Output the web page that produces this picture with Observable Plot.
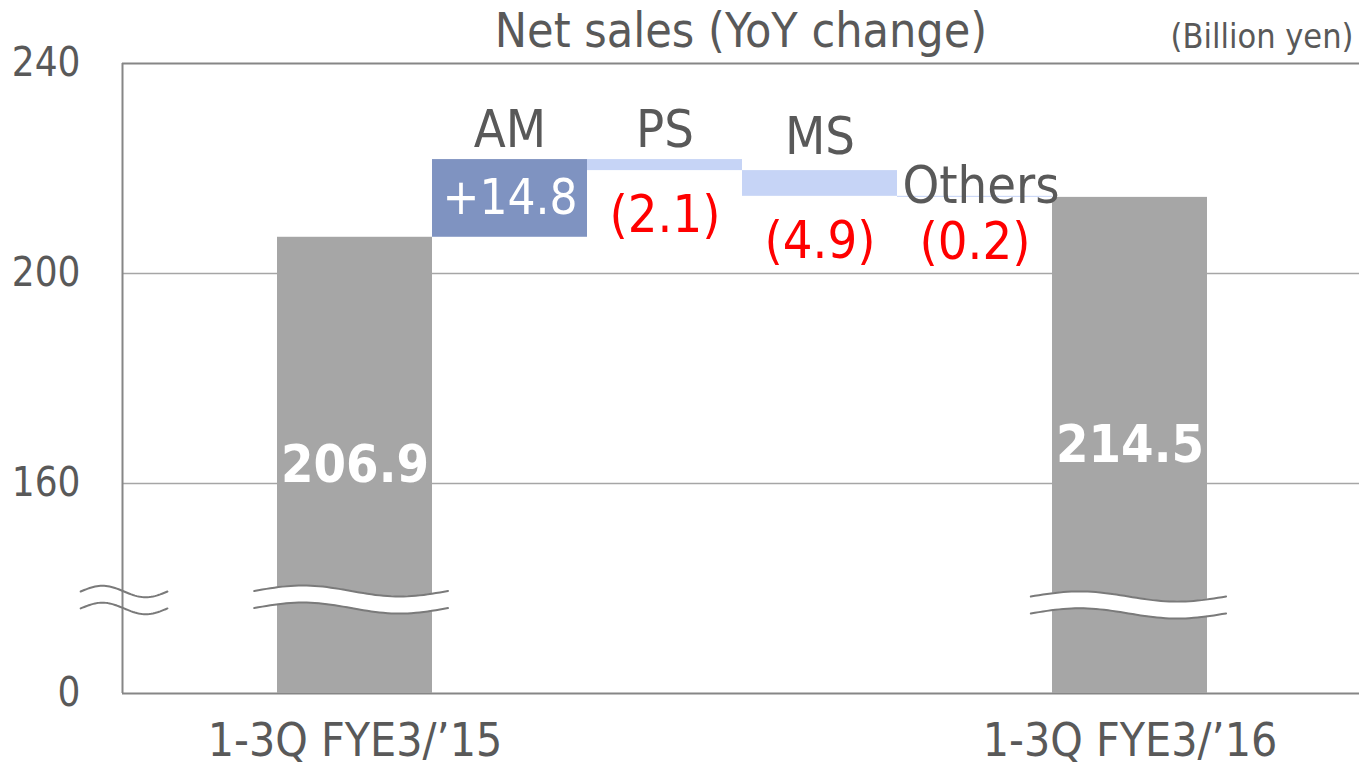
<!DOCTYPE html>
<html><head><meta charset="utf-8">
<script src="https://cdn.jsdelivr.net/npm/d3@7"></script>
<script src="https://cdn.jsdelivr.net/npm/@observablehq/plot@0.6"></script>
<style>
html,body{margin:0;padding:0;background:#fff;}
svg{display:block;}
</style>
</head><body>
<div id="chart"></div>
<script>
// ---- data ----
const categories = ["1-3Q FYE3/\u201915", "AM", "PS", "MS", "Others", "1-3Q FYE3/\u201916"];
const kinds = ["total", "delta", "delta", "delta", "delta", "total"];
const values = [206.9, 14.8, -2.1, -4.9, -0.2, 214.5];
const valueLabels = ["206.9", "+14.8", "(2.1)", "(4.9)", "(0.2)", "214.5"];
const yTickValues = [0, 160, 200, 240];
const titleText = "Net sales (YoY change)";
const unitText = "(Billion yen)";

// ---- layout helpers ----
const W = 1359, H = 767;
const FONT = "'DejaVu Sans Condensed', 'DejaVu Sans', sans-serif";
const TXT = "#595959";
const yDomain = [0, 160, 240];
const yRange = [693, 483, 63];
const yS = d3.scaleLinear().domain(yDomain).range(yRange);

// build waterfall rows
let run = 0;
const rows = categories.map((c, i) => {
  const k = kinds[i], v = values[i];
  let y1, y2;
  if (k === "total") { y1 = 0; y2 = v; run = v; }
  else { const s = run; run = s + v; y1 = Math.min(s, run); y2 = Math.max(s, run); }
  return {cat: c, kind: k, value: v, label: valueLabels[i], x1: i + 1, x2: i + 2, xm: i + 1.5, y1, y2,
          mid: yS.invert((yS(y1) + yS(y2)) / 2),
          fill: k === "total" ? "#a6a6a6" : (v >= 0 ? "#7f93c1" : "#c6d4f6")};
});

// category label offsets above step bars (px)
const catDy = [0, -29, -29, -33, -10, 0];

// axis-break markers (x in band units, y in axis values)
const breaks = [
  {x0: -0.27, x1: 0.29, upper: 77.7, lower: 64.8, amp: 4.4, fill: false},
  {x0: 0.85, x1: 2.10, upper: 78.1, lower: 65.1, amp: 4.2, fill: true},
  {x0: 5.86, x1: 7.12, upper: 73.9, lower: 61.0, amp: 3.9, fill: true}
];
const wavePts = [], waveFill = [];
breaks.forEach((b, bi) => {
  const n = 48;
  for (let j = 0; j <= n; j++) {
    const t = j / n;
    const x = b.x0 + (b.x1 - b.x0) * t;
    const s = b.amp * Math.sin(2 * Math.PI * t);
    wavePts.push({x, y: b.upper + s, z: bi + "u"});
    if (b.fill) waveFill.push({x, y1: b.lower + s, y2: b.upper + s, z: bi});
  }
  for (let j = 0; j <= n; j++) {
    const t = j / n;
    const x = b.x0 + (b.x1 - b.x0) * t;
    wavePts.push({x, y: b.lower + b.amp * Math.sin(2 * Math.PI * t), z: bi + "l"});
  }
});

const totals = rows.filter(d => d.kind === "total");
const deltas = rows.filter(d => d.kind === "delta");
const posDeltas = deltas.filter(d => d.value >= 0);
const negDeltas = deltas.filter(d => d.value < 0);

const chart = Plot.plot({
  width: W, height: H,
  marginLeft: 122, marginRight: 0, marginTop: 63, marginBottom: 74,
  style: {fontFamily: FONT, color: TXT, background: "#fff", overflow: "visible"},
  x: {type: "linear", domain: [0, 8], range: [122, 1362], axis: null},
  y: {type: "linear", domain: yDomain, range: yRange, axis: null},
  marks: [
    Plot.ruleY([160, 200], {stroke: "#a6a6a6", strokeWidth: 1.3}),
    Plot.ruleY([0], {stroke: "#868686", strokeWidth: 2}),
    Plot.rect(rows, {x1: "x1", x2: "x2", y1: "y1", y2: "y2", fill: "fill"}),
    Plot.ruleY([240], {stroke: "#868686", strokeWidth: 2}),
    Plot.ruleX([0], {y1: 0, y2: 240, stroke: "#868686", strokeWidth: 2}),
    Plot.axisY({ticks: yTickValues, tickSize: 0, tickPadding: 42, fontSize: 40, fill: TXT, tickFormat: d => String(d)}),
    Plot.areaY(waveFill, {x: "x", y1: "y1", y2: "y2", z: "z", fill: "#fff", curve: "linear"}),
    Plot.line(wavePts, {x: "x", y: "y", z: "z", stroke: "#7a7a7a", strokeWidth: 2, curve: "linear"}),
    // title & unit
    Plot.text([titleText], {frameAnchor: "top", lineAnchor: "middle", dy: -32, fontSize: 48, fill: TXT}),
    Plot.text([unitText], {frameAnchor: "top-right", lineAnchor: "middle", dx: -6, dy: -26, textAnchor: "end", fontSize: 34, fill: TXT}),
    // total value labels
    Plot.text(totals, {x: "xm", y: "mid", text: "label", fill: "#fff", fontSize: 52, fontWeight: "bold"}),
    // positive delta label inside bar
    Plot.text(posDeltas, {x: "xm", y: "mid", text: "label", fill: "#fff", fontSize: 49}),
    // negative delta labels below bar
    Plot.text(negDeltas, {x: "xm", y: "y1", text: "label", fill: "#ff0000", fontSize: 52, dy: 45}),
    // category labels above step bars
    ...deltas.map(d => Plot.text([d], {x: "xm", y: "y2", text: "cat", fill: TXT, fontSize: 52, dy: catDy[d.x1 - 1], dx: d.cat === "Others" ? 6 : 0})),
    // x category labels for totals
    Plot.text(totals, {x: "xm", y: 0, text: "cat", fill: TXT, fontSize: 46, dy: 48})
  ]
});
document.getElementById("chart").appendChild(chart);
</script>
</body></html>
